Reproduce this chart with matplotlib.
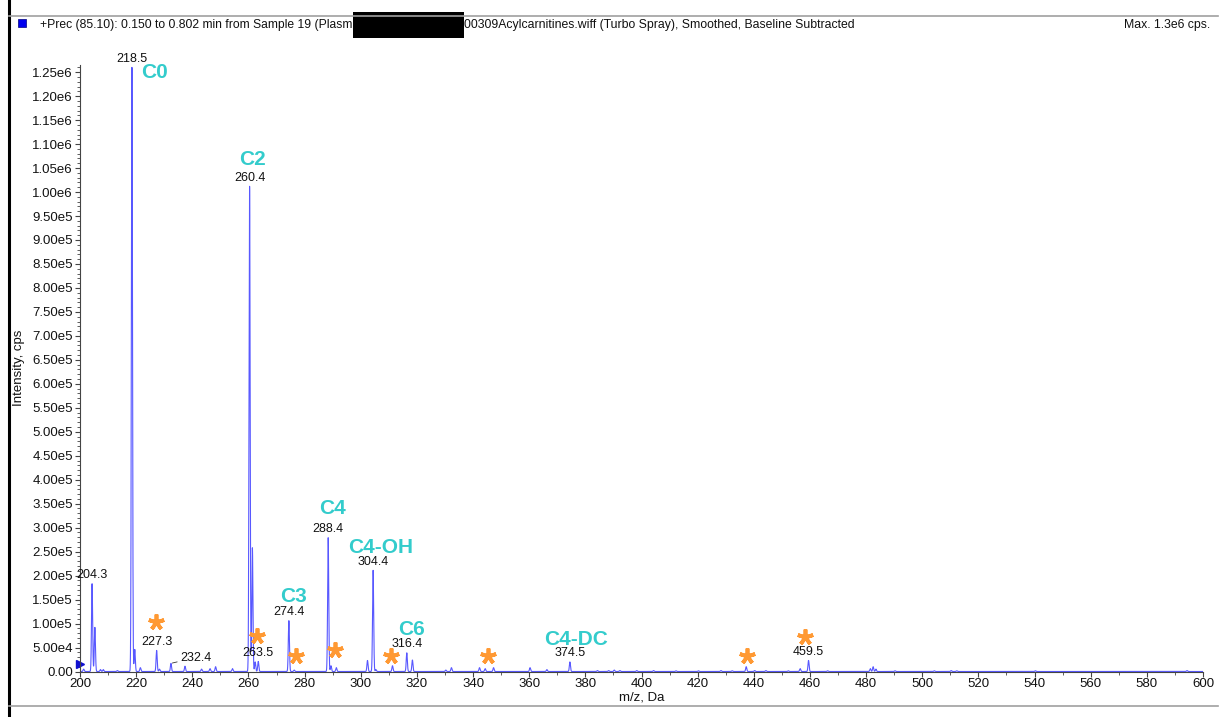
import numpy as np
import matplotlib
matplotlib.use("Agg")
import matplotlib.pyplot as plt
from matplotlib.ticker import MultipleLocator, FuncFormatter
from matplotlib.lines import Line2D
from matplotlib.patches import Rectangle

plt.rcParams['font.family'] = ['Liberation Sans', 'DejaVu Sans']

# ---------------- data ----------------
peak_mz = [201.3, 204.3, 205.3, 207.3, 208.3, 213.3, 218.5, 219.5, 221.5, 227.3, 228.3,
           232.4, 237.4, 243.3, 246.3, 248.3, 254.3, 260.4, 261.4, 262.4, 263.5,
           274.4, 276.3, 288.4, 289.4, 291.3, 302.4, 304.4, 305.4, 311.3, 316.4, 318.4,
           330.3, 332.3, 342.3, 344.3, 347.3, 360.3, 366.3, 374.5, 384.3, 388.3, 390.3,
           392.3, 398.3, 404.3, 412.3, 420.3, 428.3, 432.3, 437.3, 440.3, 444.3, 452.3,
           456.5, 459.5, 466.3, 481.5, 482.5, 483.5, 490.3, 504.3, 510.3, 512.3, 540.3,
           594.3]
peak_int = [0.05e5, 1.83e5, 0.92e5, 0.04e5, 0.04e5, 0.02e5, 1.26e6, 0.46e5, 0.08e5, 0.44e5, 0.05e5,
            0.17e5, 0.11e5, 0.05e5, 0.06e5, 0.10e5, 0.06e5, 1.012e6, 2.58e5, 0.20e5, 0.21e5,
            1.06e5, 0.03e5, 2.79e5, 0.12e5, 0.08e5, 0.23e5, 2.11e5, 0.04e5, 0.12e5, 0.39e5, 0.24e5,
            0.03e5, 0.08e5, 0.08e5, 0.06e5, 0.08e5, 0.08e5, 0.04e5, 0.20e5, 0.02e5, 0.02e5, 0.03e5,
            0.02e5, 0.02e5, 0.02e5, 0.015e5, 0.015e5, 0.02e5, 0.015e5, 0.10e5, 0.02e5, 0.02e5, 0.015e5,
            0.06e5, 0.23e5, 0.015e5, 0.06e5, 0.10e5, 0.05e5, 0.015e5, 0.015e5, 0.02e5, 0.015e5, 0.015e5,
            0.02e5]

# labelled peaks (m/z label, intensity)
label_mz = [204.3, 218.5, 227.3, 260.4, 263.5, 274.4, 288.4, 304.4, 316.4, 374.5, 459.5]
label_int = [1.83e5, 1.26e6, 0.44e5, 1.012e6, 0.21e5, 1.06e5, 2.79e5, 2.11e5, 0.39e5, 0.20e5, 0.23e5]
leader_mz, leader_int = 232.4, 0.17e5
leader_text_pos = (235.6, 0.29e5)

# compound names
cmpd_names = ['C0', 'C2', 'C3', 'C4', 'C4-OH', 'C6', 'C4-DC']
cmpd_x = [226.7, 261.6, 275.9, 289.8, 307.2, 317.9, 376.7]
cmpd_y = [1.25e6, 1.067e6, 1.56e5, 3.40e5, 2.58e5, 0.875e5, 0.667e5]

# asterisks
star_x = [227.1, 263.0, 276.9, 290.8, 310.8, 345.5, 437.4, 458.2]
star_y = [1.04e5, 0.74e5, 0.33e5, 0.44e5, 0.33e5, 0.33e5, 0.33e5, 0.73e5]

title_left = "+Prec (85.10): 0.150 to 0.802 min from Sample 19 (Plasm"
title_right = "00309Acylcarnitines.wiff (Turbo Spray), Smoothed, Baseline Subtracted"
max_text = "Max. 1.3e6 cps."

# ---------------- figure ----------------
W, H = 1228, 717
fig = plt.figure(figsize=(W / 100, H / 100), dpi=100)
ax = fig.add_axes([80 / W, (H - 671.5) / H, (1203 - 80) / W, (671.5 - 65) / H])

# profile spectrum built from peak list
mz = np.linspace(200, 600, 16001)
prof = np.zeros_like(mz)
sig = 0.2
for m, i in zip(peak_mz, peak_int):
    prof += i * np.exp(-0.5 * ((mz - m) / sig) ** 2)
ax.plot(mz, prof, color='#4646ff', lw=0.8, alpha=0.9)

ax.set_xlim(200, 600)
ax.set_ylim(0, 1.265e6)

for s in ['top', 'right']:
    ax.spines[s].set_visible(False)
for s in ['left', 'bottom']:
    ax.spines[s].set_color('#444444')
    ax.spines[s].set_linewidth(0.8)

ax.xaxis.set_major_locator(MultipleLocator(20))
ax.xaxis.set_minor_locator(MultipleLocator(10))
ax.yaxis.set_major_locator(MultipleLocator(5e4))
ax.yaxis.set_minor_locator(MultipleLocator(1e4))


def yfmt(v, pos):
    if abs(v) < 1:
        return "0.00"
    e = int(np.floor(np.log10(abs(v)) + 1e-9))
    mant = v / 10 ** e
    return f"{mant:.2f}e{e}"


ax.yaxis.set_major_formatter(FuncFormatter(yfmt))
ax.tick_params(axis='both', which='major', labelsize=9.5, colors='#444444',
               labelcolor='#111111', length=3.5, width=0.8, pad=1.5)
ax.tick_params(axis='both', which='minor', colors='#444444', length=2, width=0.6)

ax.set_xlabel("m/z, Da", fontsize=9.5, color='#111111', labelpad=1)
ax.set_ylabel("Intensity, cps", fontsize=9.5, color='#111111')
ax.yaxis.set_label_coords(-(80 - 25) / (1203 - 80), 0.5)

# peak labels
for m, i in zip(label_mz, label_int):
    ax.annotate(f"{m:.1f}", xy=(m, i), xytext=(0, 2), textcoords='offset points',
                ha='center', va='bottom', fontsize=9, color='#111111')
ax.annotate(f"{leader_mz:.1f}", xy=(leader_mz, leader_int), xytext=leader_text_pos,
            ha='left', va='center', fontsize=9, color='#111111',
            arrowprops=dict(arrowstyle='-', color='#333333', lw=0.6,
                            shrinkA=0, shrinkB=1))

# compound names
for n, x, y in zip(cmpd_names, cmpd_x, cmpd_y):
    ax.text(x, y, n, ha='center', va='center', fontsize=15, fontweight='bold',
            color='#33cccc')

# asterisks
ax.plot(star_x, star_y, linestyle='none', marker=(5, 2, 0), markersize=11.5,
        markeredgewidth=2.7, color='#ff9933', clip_on=False)

# blue triangle marker at the left baseline
ax.plot([0], [0.012], transform=ax.transAxes, marker='>', markersize=6,
        color='#1010d0', clip_on=False, linestyle='none')

# ---------------- frame & header ----------------
fig.add_artist(Line2D([8.5 / W, 8.5 / W], [0, 1], color='black', lw=2.2))
fig.add_artist(Line2D([8.5 / W, 1218 / W], [(H - 16) / H, (H - 16) / H],
                      color='#a0a0a0', lw=1.2))
fig.add_artist(Line2D([8.5 / W, 1218 / W], [(H - 706) / H, (H - 706) / H],
                      color='#a0a0a0', lw=1.2))
fig.add_artist(Rectangle((18 / W, (H - 27) / H), 8 / W, 8 / H, facecolor='#0000ee',
                         edgecolor='#000080', lw=0.5))
fig.text(40 / W, (H - 25) / H, title_left, fontsize=8.7, color='#111111',
         ha='left', va='center')
fig.add_artist(Rectangle((353 / W, (H - 38) / H), 111 / W, 26 / H, facecolor='black',
                         edgecolor='none'))
fig.text(464 / W, (H - 25) / H, title_right, fontsize=8.8, color='#111111',
         ha='left', va='center')
fig.text(1210 / W, (H - 25) / H, max_text, fontsize=8.8, color='#111111',
         ha='right', va='center')

fig.savefig("out.png", dpi=100)
